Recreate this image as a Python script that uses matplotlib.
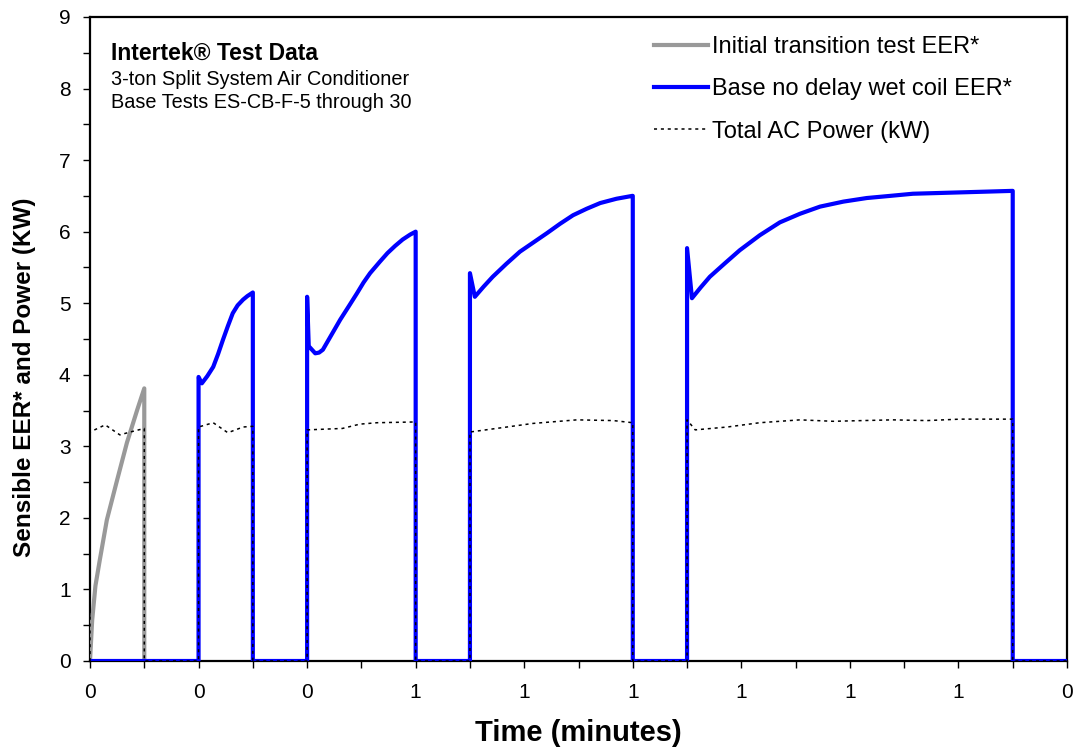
import matplotlib
matplotlib.use("Agg")
import matplotlib.pyplot as plt
from matplotlib.ticker import MultipleLocator, FixedLocator, FixedFormatter

plt.rcParams['font.family'] = ['Liberation Sans', 'DejaVu Sans']

# Time axis (tick units) and series values
gray_t = [0.0, 0.04, 0.10, 0.18, 0.31, 0.50, 0.68, 0.87, 1.00, 1.00]
gray_v = [0.0, 0.57, 1.05, 1.41, 1.97, 2.53, 3.05, 3.51, 3.81, 0.0]

blue_t = [0.0, 2.0, 2.0, 2.06, 2.16, 2.27, 2.36, 2.45, 2.54, 2.63, 2.72, 2.82, 2.90, 2.98, 3.0, 3.0,
          4.0, 4.0, 4.03, 4.15, 4.22, 4.29, 4.45, 4.61, 4.77, 4.92, 5.04, 5.16, 5.34, 5.48,
          5.62, 5.76, 5.90, 6.0, 6.0,
          7.0, 7.0, 7.09, 7.25, 7.42, 7.67, 7.92, 8.17, 8.42, 8.66, 8.90, 9.15, 9.40, 9.70, 9.99,
          10.0, 10.0,
          11.0, 11.0, 11.09, 11.25, 11.42, 11.70, 11.97, 12.34, 12.71, 13.08, 13.45, 13.88, 14.31,
          14.74, 15.16, 15.62, 16.08, 16.54, 16.99, 17.0, 17.0,
          18.0]
blue_v = [0.0, 0.0, 3.97, 3.88, 3.98, 4.11, 4.29, 4.49, 4.68, 4.86, 4.97, 5.05, 5.10, 5.14, 5.15, 0.0,
          0.0, 5.09, 4.40, 4.30, 4.31, 4.35, 4.56, 4.77, 4.96, 5.14, 5.29, 5.42, 5.58, 5.70,
          5.80, 5.89, 5.96, 6.0, 0.0,
          0.0, 5.42, 5.09, 5.23, 5.37, 5.55, 5.72, 5.85, 5.98, 6.11, 6.23, 6.32, 6.40, 6.46, 6.50,
          6.50, 0.0,
          0.0, 5.77, 5.07, 5.22, 5.37, 5.56, 5.74, 5.95, 6.13, 6.25, 6.35, 6.42, 6.47,
          6.50, 6.53, 6.54, 6.55, 6.56, 6.57, 6.57, 0.0,
          0.0]

power_t = [0.0, 0.0, 0.28, 0.55, 0.74, 1.0, 1.0,
           2.0, 2.0, 2.27, 2.54, 2.82, 3.0, 3.0,
           4.0, 4.0, 4.65, 4.97, 5.29, 5.95, 6.0, 6.0,
           7.0, 7.0, 7.68, 8.16, 8.97, 9.64, 10.0, 10.0,
           11.0, 11.0, 11.15, 11.74, 12.34, 13.08, 13.69, 14.79, 15.42, 16.03, 17.0, 17.0,
           18.0]
power_v = [0.0, 3.20, 3.30, 3.16, 3.20, 3.25, 0.0,
           0.0, 3.27, 3.33, 3.19, 3.27, 3.28, 0.0,
           0.0, 3.23, 3.25, 3.31, 3.33, 3.34, 3.34, 0.0,
           0.0, 3.20, 3.27, 3.32, 3.37, 3.36, 3.33, 0.0,
           0.0, 3.37, 3.23, 3.27, 3.33, 3.37, 3.35, 3.37, 3.36, 3.38, 3.38, 0.0,
           0.0]

x_label_pos = [0, 2, 4, 6, 8, 10, 12, 14, 16, 18]
x_tick_labels = ["0", "0", "0", "1", "1", "1", "1", "1", "1", "0"]

fig = plt.figure(figsize=(10.78, 7.51), dpi=100)
ax = fig.add_axes([90/1078, 1 - 661/751, (1067 - 90)/1078, (661 - 17)/751])

ax.plot(gray_t, gray_v, color='#999999', lw=3.0, label='Initial transition test EER*', zorder=3)
ax.plot(blue_t, blue_v, color='#0000FF', lw=3.0, label='Base no delay wet coil EER*', zorder=4)
ax.plot(power_t, power_v, color='black', lw=1.1, linestyle=(0, (2, 2.5)),
        label='Total AC Power (kW)', zorder=5)

ax.set_xlim(0, 18)
ax.set_ylim(0, 9)
ax.xaxis.set_major_locator(FixedLocator(x_label_pos))
ax.xaxis.set_major_formatter(FixedFormatter(x_tick_labels))
ax.xaxis.set_minor_locator(MultipleLocator(1))
ax.yaxis.set_major_locator(MultipleLocator(1))
ax.yaxis.set_minor_locator(MultipleLocator(0.5))

ax.tick_params(axis='both', which='both', direction='out', length=5, width=1.0, colors='black')
ax.tick_params(axis='x', which='major', labelsize=15, pad=11)
ax.tick_params(axis='y', which='major', labelsize=15, pad=9)

for sp in ax.spines.values():
    sp.set_linewidth(1.6)
    sp.set_color('black')

ax.set_xlabel('Time (minutes)', fontsize=21, fontweight='bold', labelpad=12)
ax.set_ylabel('Sensible EER* and Power (KW)', fontsize=17.5, fontweight='bold')
ax.yaxis.set_label_coords(-0.055, 0.44)

ax.text(0.021, 0.944, 'Intertek® Test Data', transform=ax.transAxes,
        fontsize=16.5, fontweight='bold', va='center', ha='left')
ax.text(0.021, 0.903, '3-ton Split System Air Conditioner', transform=ax.transAxes,
        fontsize=14.3, va='center', ha='left')
ax.text(0.021, 0.867, 'Base Tests ES-CB-F-5 through 30', transform=ax.transAxes,
        fontsize=14.3, va='center', ha='left')

leg = ax.legend(loc='upper left', bbox_to_anchor=(654/1078, 1 - 36/751),
                bbox_transform=fig.transFigure, frameon=False, fontsize=17,
                handlelength=2.3, handletextpad=0.17, labelspacing=0.86,
                borderpad=0, borderaxespad=0)

fig.savefig('out.png', dpi=100)
